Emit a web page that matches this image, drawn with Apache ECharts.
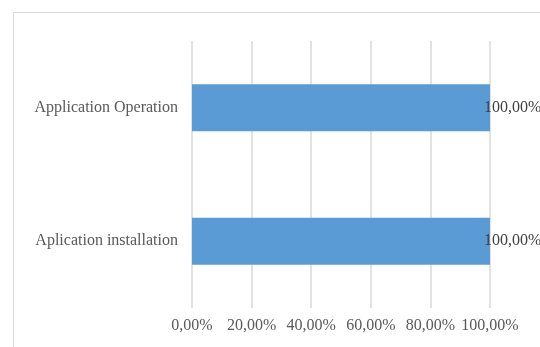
<!DOCTYPE html>
<html>
<head>
<meta charset="utf-8">
<script src="https://cdn.jsdelivr.net/npm/echarts@6/dist/echarts.min.js"></script>
<style>html,body{margin:0;padding:0;background:#fff}#c{width:540px;height:347px}</style>
</head>
<body>
<div id="c"></div>
<script>
const categories = ['Aplication installation', 'Application Operation'];
const values = [1.0, 1.0];
const tickMin = 0, tickMax = 1, tickStep = 0.2;

function pct(v) {
  return (v * 100).toFixed(2).replace('.', ',') + '%';
}

const chart = echarts.init(document.getElementById('c'), null, {renderer: 'canvas'});
const font = 'Liberation Serif';
chart.setOption({
  animation: false,
  backgroundColor: '#fff',
  graphic: [{
    type: 'rect',
    shape: {x: 13.5, y: 12.5, width: 700, height: 500},
    style: {fill: 'none', stroke: '#d9d9d9', lineWidth: 1},
    silent: true
  }],
  grid: {left: 192, right: 50, top: 41, bottom: 39, containLabel: false},
  xAxis: {
    type: 'value',
    min: tickMin, max: tickMax, interval: tickStep,
    axisLine: {show: false},
    axisTick: {show: false},
    splitLine: {show: true, lineStyle: {color: '#d9d9d9', width: 1.5}},
    axisLabel: {
      color: '#595959', fontFamily: font, fontSize: 16, margin: 10,
      formatter: v => pct(v)
    }
  },
  yAxis: {
    type: 'category',
    data: categories,
    axisLine: {show: false},
    axisTick: {show: false},
    splitLine: {show: false},
    axisLabel: {color: '#595959', fontFamily: font, fontSize: 16, margin: 14}
  },
  series: [{
    type: 'bar',
    data: values,
    barWidth: 47,
    itemStyle: {color: '#5b9bd5'},
    label: {
      show: true,
      position: 'right',
      offset: [-11, 0],
      color: '#404040',
      fontFamily: font,
      fontSize: 16,
      formatter: p => pct(p.value)
    }
  }]
});
</script>
</body>
</html>
